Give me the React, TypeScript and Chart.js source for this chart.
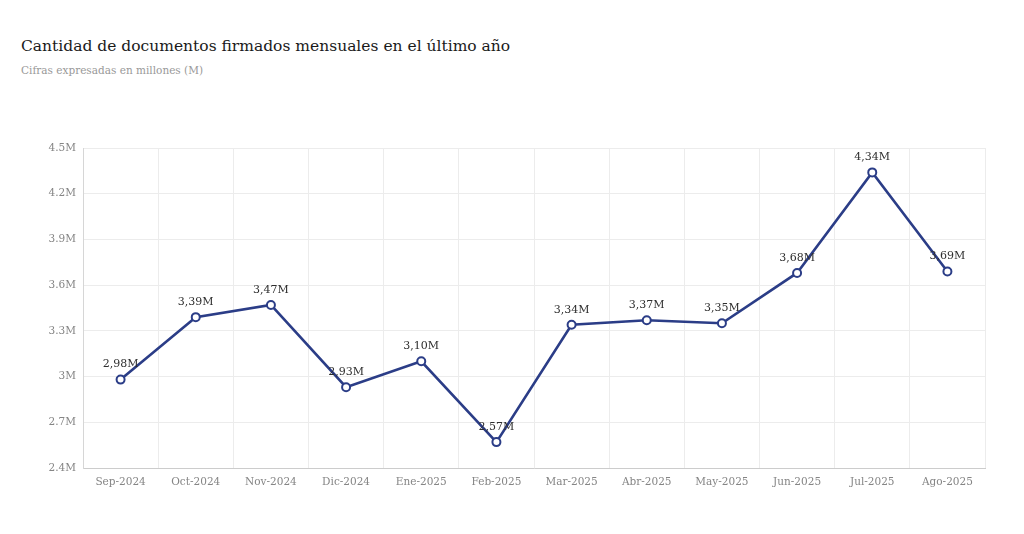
import React, { useEffect, useRef } from "react";
import { Chart, registerables } from "chart.js";

Chart.register(...registerables);

const months = [
  "Sep-2024", "Oct-2024", "Nov-2024", "Dic-2024", "Ene-2025", "Feb-2025",
  "Mar-2025", "Abr-2025", "May-2025", "Jun-2025", "Jul-2025", "Ago-2025",
];
const documentsMillions = [2.98, 3.39, 3.47, 2.93, 3.1, 2.57, 3.34, 3.37, 3.35, 3.68, 4.34, 3.69];
const yMin = 2.4;
const yMax = 4.5;
const yStep = 0.3;

const titleText = "Cantidad de documentos firmados mensuales en el último año";
const subtitleText = "Cifras expresadas en millones (M)";

const FONT = "'DejaVu Serif', 'Liberation Serif', serif";
const LINE = "#2b3d87";

const valueLabels = {
  id: "valueLabels",
  afterDatasetsDraw(chart: any) {
    const ctx = chart.ctx;
    const meta = chart.getDatasetMeta(0);
    const data = chart.data.datasets[0].data as number[];
    ctx.save();
    ctx.font = `11px ${FONT}`;
    ctx.fillStyle = "#2e2e2e";
    ctx.textAlign = "center";
    ctx.textBaseline = "middle";
    meta.data.forEach((pt: any, i: number) => {
      const txt = data[i].toFixed(2).replace(".", ",") + "M";
      ctx.fillText(txt, pt.x, pt.y - 15);
    });
    ctx.restore();
  },
};

export default function App() {
  const ref = useRef<HTMLCanvasElement | null>(null);
  useEffect(() => {
    if (!ref.current) return;
    const chart = new Chart(ref.current, {
      type: "line",
      data: {
        labels: months,
        datasets: [
          {
            data: documentsMillions,
            borderColor: LINE,
            borderWidth: 2.6,
            pointBackgroundColor: "#ffffff",
            pointBorderColor: LINE,
            pointBorderWidth: 2,
            pointRadius: 4,
            tension: 0,
          },
        ],
      },
      options: {
        animation: false,
        responsive: false,
        maintainAspectRatio: false,
        layout: { padding: { top: 148, right: 39, left: 0, bottom: 0 } },
        plugins: { legend: { display: false }, tooltip: { enabled: false } },
        scales: {
          x: {
            offset: true,
            grid: { offset: true, color: "#ececec", drawTicks: false },
            border: { color: "#cccccc", width: 1 },
            ticks: { color: "#858585", font: { family: FONT, size: 10.5 }, padding: 8, maxRotation: 0 },
            afterFit(scale: any) { scale.height = 66; },
          },
          y: {
            min: yMin,
            max: yMax,
            grid: { color: "#ececec", drawTicks: false },
            border: { color: "#d6d6d6", width: 1 },
            ticks: {
              stepSize: yStep,
              color: "#858585",
              font: { family: FONT, size: 10.5 },
              padding: 7,
              callback: (v: any) => Number(Number(v).toFixed(1)) + "M",
            },
            afterFit(scale: any) { scale.width = 83; },
          },
        },
      },
      plugins: [valueLabels],
    });
    return () => chart.destroy();
  }, []);

  return (
    <div style={{ position: "absolute", left: 0, top: 0, width: 1024, height: 534, background: "#fff" }}>
      <div style={{ position: "absolute", left: 21, top: 37, fontFamily: FONT, fontSize: 15.5, color: "#1a1a1a", whiteSpace: "nowrap" }}>
        {titleText}
      </div>
      <div style={{ position: "absolute", left: 21, top: 64, fontFamily: FONT, fontSize: 10.5, color: "#999999", whiteSpace: "nowrap" }}>
        {subtitleText}
      </div>
      <canvas ref={ref} width={1024} height={534} style={{ position: "absolute", left: 0, top: 0 }} />
    </div>
  );
}
